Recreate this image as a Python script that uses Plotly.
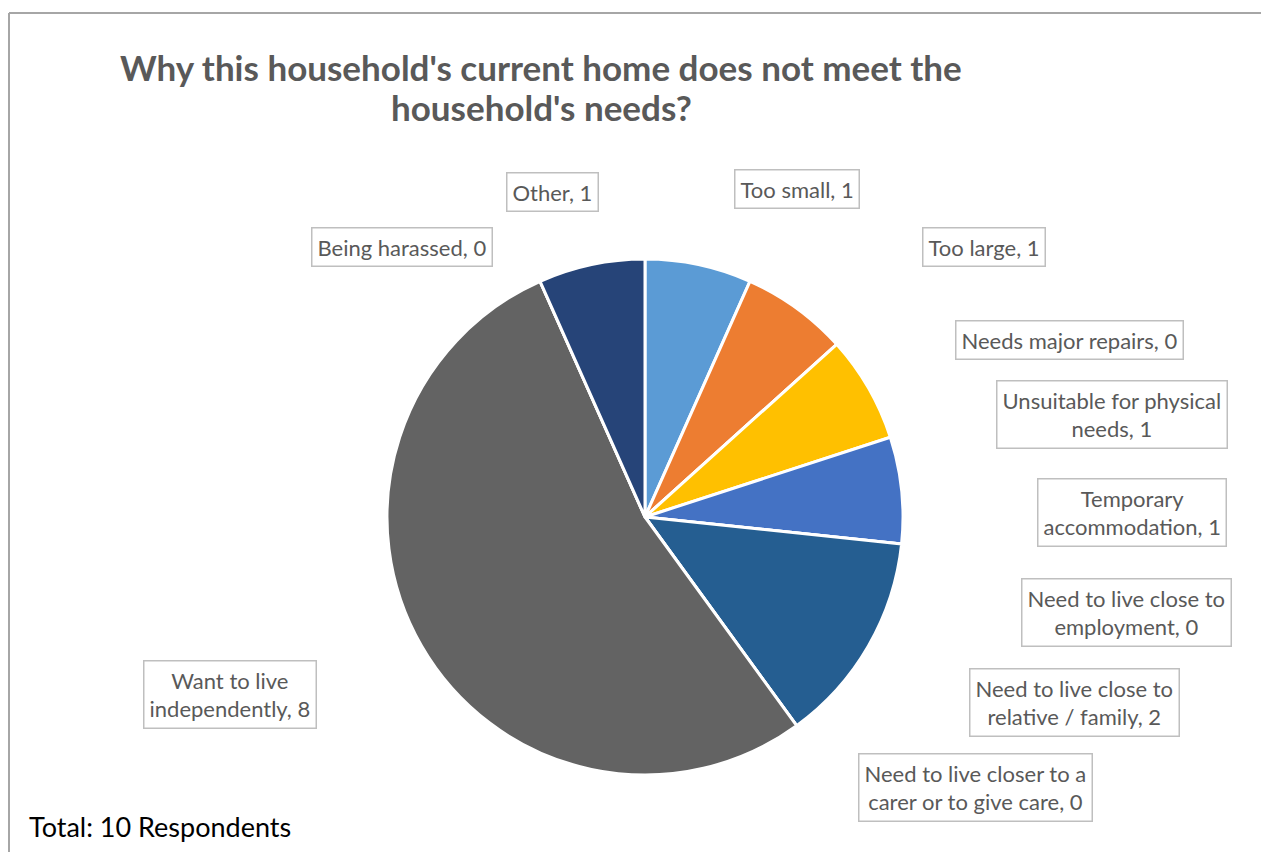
import plotly.graph_objects as go

categories = [
    "Too small",
    "Too large",
    "Needs major repairs",
    "Unsuitable for physical needs",
    "Temporary accommodation",
    "Need to live close to employment",
    "Need to live close to relative / family",
    "Need to live closer to a carer or to give care",
    "Want to live independently",
    "Being harassed",
    "Other",
]
values = [1, 1, 0, 1, 1, 0, 2, 0, 8, 0, 1]
colors = ["#5B9BD5", "#ED7D31", "#A5A5A5", "#FFC000", "#4472C4", "#70AD47",
          "#255E91", "#9E480E", "#636363", "#997300", "#264478"]

# how each data label is wrapped (first part of label text)
label_wrap = [
    "Too small",
    "Too large",
    "Needs major repairs",
    "Unsuitable for physical<br>needs",
    "Temporary<br>accommodation",
    "Need to live close to<br>employment",
    "Need to live close to<br>relative / family",
    "Need to live closer to a<br>carer or to give care",
    "Want to live<br>independently",
    "Being harassed",
    "Other",
]
title_lines = ["Why this household's current home does not meet the", "household's needs?"]
footnote = "Total: 10 Respondents"

# label box centres in pixels (layout)
label_px = [
    (797, 189), (984, 247), (1069, 340), (1112, 414), (1132, 512),
    (1126, 612), (1074, 702), (975, 787), (230, 694), (402, 247), (552, 192),
]

W, H = 1261, 852
cx, cy, r = 645, 517, 258
FONT = "Lato, Liberation Sans, sans-serif"

fig = go.Figure(go.Pie(
    labels=categories,
    values=values,
    sort=False,
    direction="clockwise",
    rotation=0,
    marker=dict(colors=colors, line=dict(color="white", width=3)),
    textinfo="none",
    hoverinfo="label+value",
    showlegend=False,
    domain=dict(x=[(cx - r) / W, (cx + r) / W], y=[(H - cy - r) / H, (H - cy + r) / H]),
))

annotations = []
for txt, v, (px, py) in zip(label_wrap, values, label_px):
    annotations.append(dict(
        x=px / W, y=1 - py / H, xref="paper", yref="paper",
        text=f"{txt}, {v}", showarrow=False, align="center",
        xanchor="center", yanchor="middle",
        font=dict(family=FONT, size=22, color="#595959"),
        bordercolor="#BFBFBF", borderwidth=1.5, borderpad=5, bgcolor="white",
    ))

for line, py in zip(title_lines, [67, 107]):
    annotations.append(dict(
        x=541 / W, y=1 - py / H, xref="paper", yref="paper",
        text=f"<b>{line}</b>", showarrow=False, align="center",
        xanchor="center", yanchor="middle",
        font=dict(family=FONT, size=35, color="#595959"),
    ))
annotations.append(dict(
    x=27 / W, y=1 - 826 / H, xref="paper", yref="paper",
    text=footnote, showarrow=False,
    xanchor="left", yanchor="middle",
    font=dict(family=FONT, size=27, color="#000000"),
))

shapes = [
    dict(type="line", xref="paper", yref="paper", x0=9 / W, x1=1.0, y0=1 - 13 / H, y1=1 - 13 / H,
         line=dict(color="#A6A6A6", width=2)),
    dict(type="line", xref="paper", yref="paper", x0=9 / W, x1=9 / W, y0=0, y1=1 - 13 / H,
         line=dict(color="#A6A6A6", width=2)),
]

fig.update_layout(
    width=W, height=H,
    margin=dict(l=0, r=0, t=0, b=0),
    paper_bgcolor="white", plot_bgcolor="white",
    annotations=annotations, shapes=shapes,
)

fig.write_html("out.html")
